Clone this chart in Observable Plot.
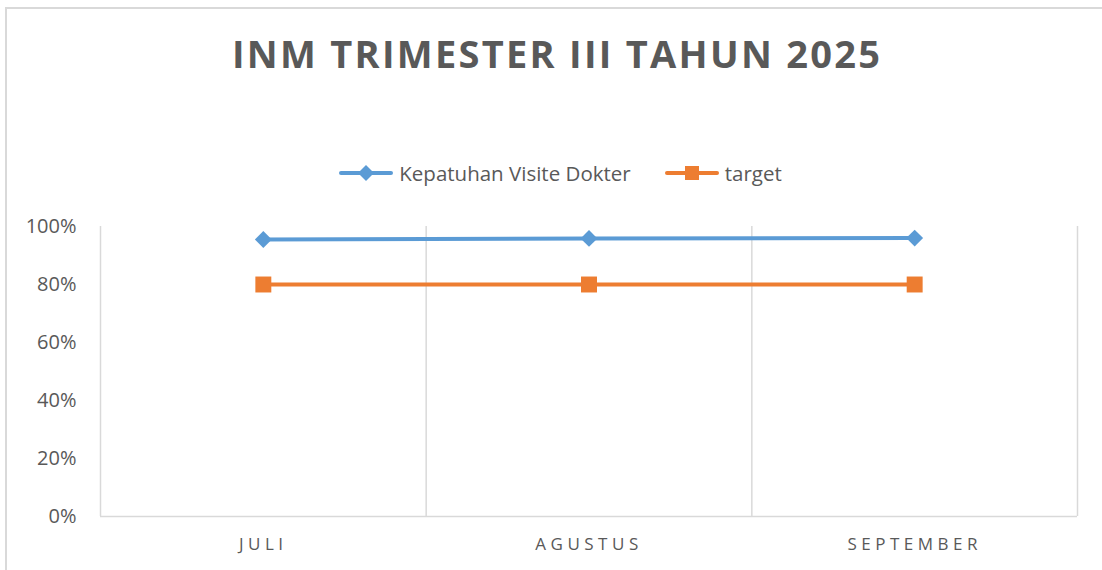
<!DOCTYPE html>
<html>
<head>
<meta charset="utf-8">
<script src="https://cdn.jsdelivr.net/npm/d3@7"></script>
<script src="https://cdn.jsdelivr.net/npm/@observablehq/plot@0.6"></script>
<style>
  html, body { margin: 0; padding: 0; background: #fff; overflow: hidden; width: 1102px; height: 570px; }
  #frame { position: absolute; left: 5px; top: 7px; width: 1200px; height: 700px; border: 2px solid #d9d9d9; box-sizing: border-box; }
  #chart { position: absolute; left: 0; top: 0; }
  #title { position: absolute; left: 0; width: 1112px; top: 34px; text-align: center; font-family: "Open Sans", sans-serif; font-weight: 700; font-size: 38px; line-height: 1; color: #595959; white-space: nowrap; }
  #legend { position: absolute; top: 160px; left: 0; width: 1121px; display: flex; justify-content: center; align-items: center; font-family: "Open Sans", sans-serif; font-size: 20.5px; color: #595959; height: 26px; }
  #legend .item { display: flex; align-items: center; }
  #legend svg { display: block; margin-right: 6px; }
  #legend .item + .item { margin-left: 34px; }
  svg text { fill: #595959; }
  g[aria-label="x-axis tick label"] text { letter-spacing: 4.5px; }
</style>
</head>
<body>
<div id="frame"></div>
<div id="chart"></div>
<div id="title"><span id="titletext"></span></div>
<div id="legend"></div>
<script>
// ---- data ----
const titleText = "INM TRIMESTER III TAHUN 2025";
const categories = ["JULI", "AGUSTUS", "SEPTEMBER"];
const seriesNames = ["Kepatuhan Visite Dokter", "target"];
const kepatuhan = [0.955, 0.959, 0.96];
const target = [0.80, 0.80, 0.80];
const yTicks = [0, 0.2, 0.4, 0.6, 0.8, 1.0];
const colors = ["#5b9bd5", "#ed7d31"];

// build table
const rows = [];
categories.forEach((c, i) => {
  rows.push({series: seriesNames[0], cat: c, idx: i + 0.5, value: kepatuhan[i]});
  rows.push({series: seriesNames[1], cat: c, idx: i + 0.5, value: target[i]});
});
const s1 = rows.filter(d => d.series === seriesNames[0]);
const s2 = rows.filter(d => d.series === seriesNames[1]);
const boundaries = d3.range(categories.length + 1);
const centers = categories.map((c, i) => i + 0.5);

const chart = Plot.plot({
  width: 1102,
  height: 570,
  marginTop: 226,
  marginBottom: 54,
  marginLeft: 100,
  marginRight: 25,
  style: {background: "transparent", fontFamily: "'Open Sans', sans-serif", color: "#595959"},
  x: {type: "linear", domain: [0, categories.length]},
  y: {domain: [0, 1]},
  marks: [
    Plot.gridX(boundaries, {stroke: "#d9d9d9", strokeOpacity: 1, strokeWidth: 1.5}),
    Plot.ruleY([0], {stroke: "#d9d9d9", strokeWidth: 1.5}),
    Plot.axisY({ticks: yTicks, tickFormat: d3.format(".0%"), tickSize: 0, tickPadding: 24, fontSize: 20, label: null}),
    Plot.axisX({ticks: centers, tickFormat: t => categories[Math.floor(t)], tickSize: 0, tickPadding: 21, fontSize: 17, dx: 0, label: null}),
    Plot.line(s1, {x: "idx", y: "value", stroke: colors[0], strokeWidth: 4, strokeLinecap: "round"}),
    Plot.line(s2, {x: "idx", y: "value", stroke: colors[1], strokeWidth: 4, strokeLinecap: "round"}),
    Plot.dot(s1, {x: "idx", y: "value", symbol: "diamond2", r: 7.6, fill: colors[0], stroke: "none"}),
    Plot.dot(s2, {x: "idx", y: "value", symbol: "square", r: 9, fill: colors[1], stroke: "none"})
  ]
});
document.getElementById("chart").appendChild(chart);

// title with spacing fitted to reference width
const tspan = document.getElementById("titletext");
tspan.textContent = titleText;
const natural = tspan.getBoundingClientRect().width;
const ls = Math.max(0, (648 - natural) / (titleText.length - 1));
tspan.style.letterSpacing = ls + "px";
tspan.style.paddingLeft = ls + "px";

// legend
const legend = document.getElementById("legend");
seriesNames.forEach((name, i) => {
  const item = document.createElement("div");
  item.className = "item";
  const ns = "http://www.w3.org/2000/svg";
  const sw = document.createElementNS(ns, "svg");
  sw.setAttribute("width", 54); sw.setAttribute("height", 20);
  const ln = document.createElementNS(ns, "line");
  ln.setAttribute("x1", 2); ln.setAttribute("x2", 52); ln.setAttribute("y1", 10); ln.setAttribute("y2", 10);
  ln.setAttribute("stroke", colors[i]); ln.setAttribute("stroke-width", 4); ln.setAttribute("stroke-linecap", "round");
  sw.appendChild(ln);
  const mk = document.createElementNS(ns, "path");
  mk.setAttribute("d", i === 0 ? "M27,2L35,10L27,18L19,10Z" : "M20,3H34V17H20Z");
  mk.setAttribute("fill", colors[i]);
  sw.appendChild(mk);
  item.appendChild(sw);
  const tx = document.createElement("span");
  tx.textContent = name;
  item.appendChild(tx);
  legend.appendChild(item);
});
</script>
</body>
</html>
